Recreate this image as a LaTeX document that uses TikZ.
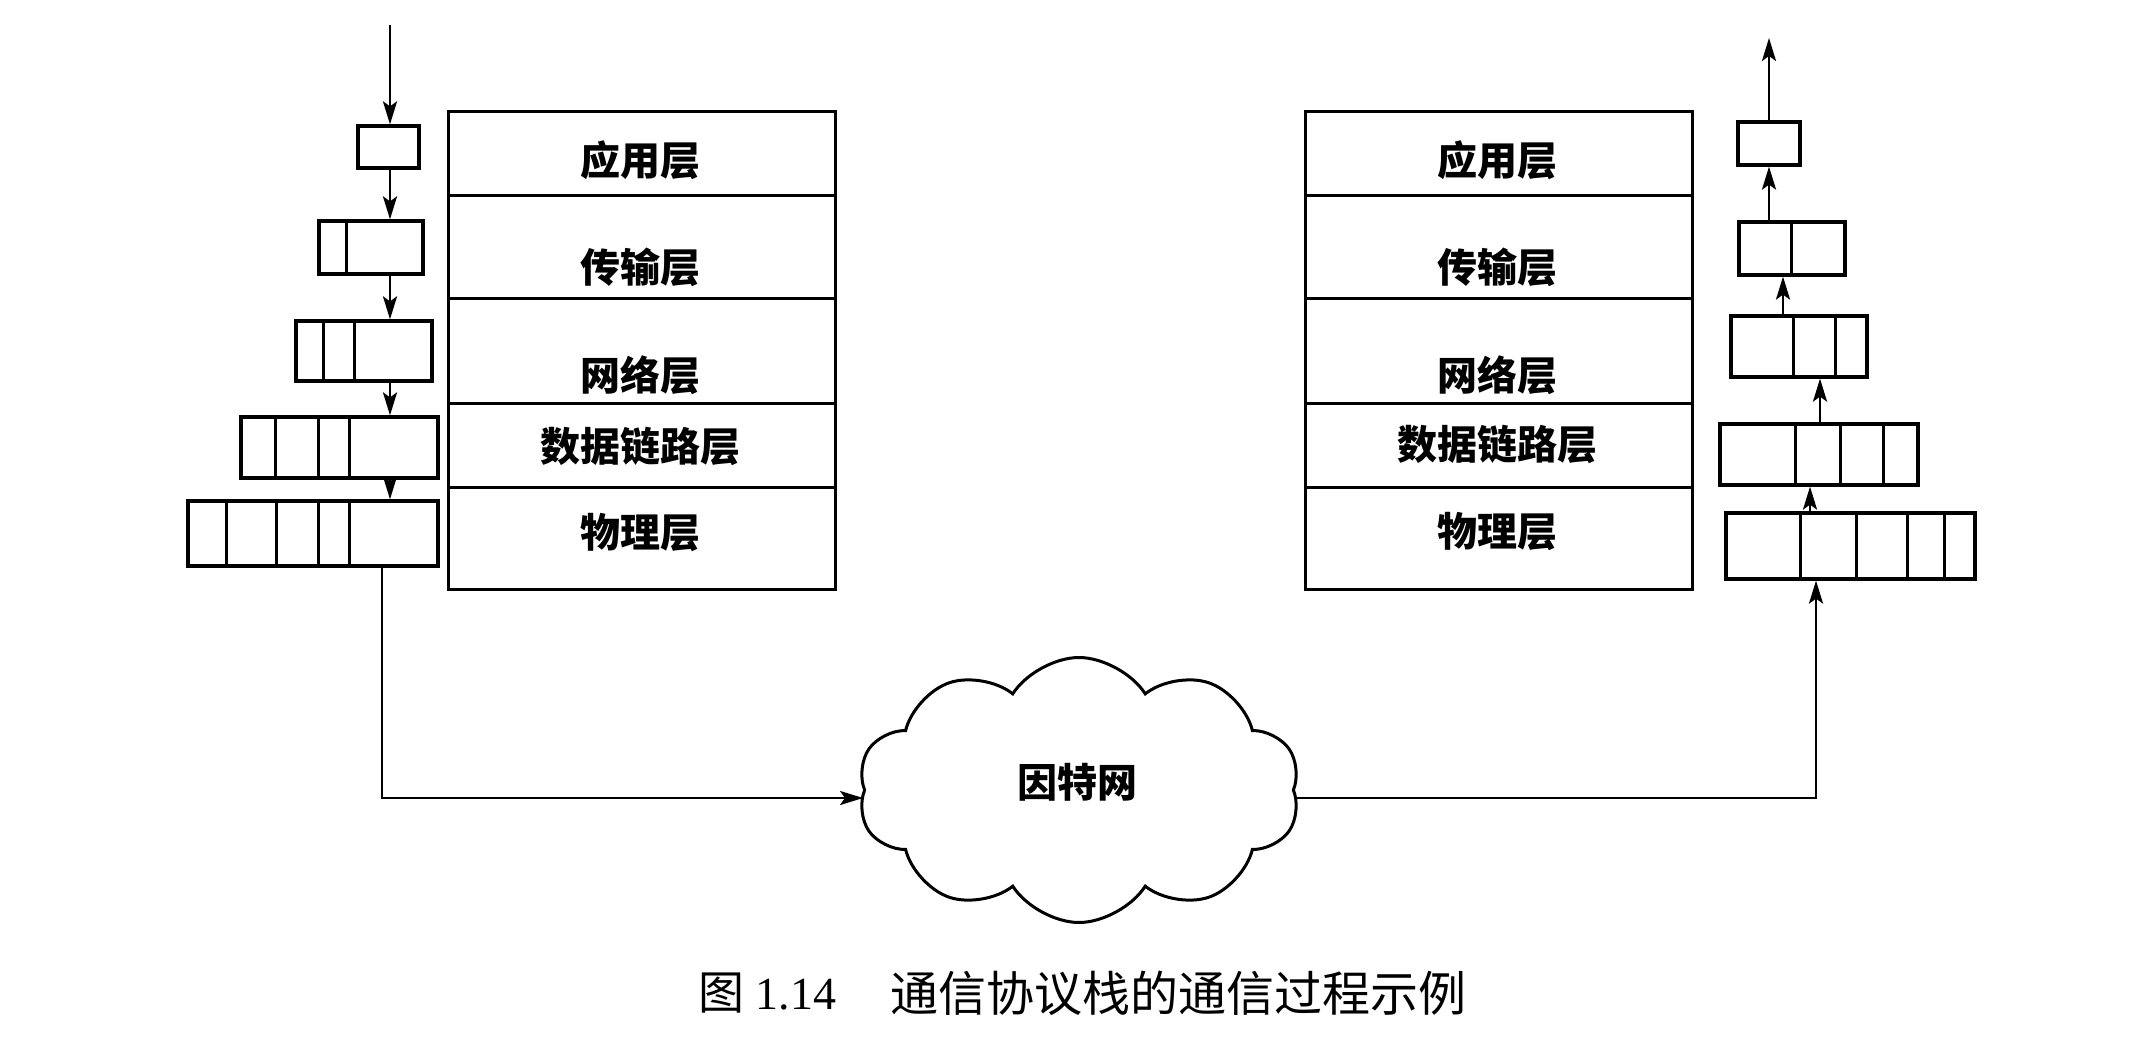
\documentclass[tikz,border=0pt]{standalone}
\usepackage{fontspec}
\setmainfont{Liberation Serif}
\newfontfamily\cjk{Noto Sans CJK SC}
\usetikzlibrary{arrows.meta,shapes.symbols}
\begin{document}
\begin{tikzpicture}[x=1pt,y=-1pt,
  pkt/.style={draw, rectangle, line width=3.2pt, inner sep=0pt},
  cell/.style={draw, rectangle, line width=3pt, inner sep=0pt, anchor=north west, minimum width=387pt},
  lay/.style={font=\cjk\bfseries\fontsize{40}{44}\selectfont, inner sep=0pt},
  conn/.style={line width=2.8pt},
  arr/.style={conn, -{Stealth[length=23pt,width=14pt,inset=5pt]}},
  div/.style={line width=3pt}]
\useasboundingbox (0,0) rectangle (2156,1038);

% ---------- left stack ----------
\node[cell, minimum height=84pt]  (la) at (447,110) {};
\node[cell, minimum height=103pt] (lb) at (447,194) {};
\node[cell, minimum height=105pt] (lc) at (447,297) {};
\node[cell, minimum height=84pt]  (ld) at (447,402) {};
\node[cell, minimum height=102pt] (le) at (447,486) {};
\node[lay] (tla) at (640,160) {应用层};
\node[lay] (tlb) at (640,267) {传输层};
\node[lay] (tlc) at (640,375) {网络层};
\node[lay] (tld) at (640,446) {数据链路层};
\node[lay] (tle) at (640,533) {物理层};

% ---------- right stack ----------
\node[cell, minimum height=84pt]  (ra) at (1304,110) {};
\node[cell, minimum height=103pt] (rb) at (1304,194) {};
\node[cell, minimum height=105pt] (rc) at (1304,297) {};
\node[cell, minimum height=84pt]  (rd) at (1304,402) {};
\node[cell, minimum height=102pt] (re) at (1304,486) {};
\node[lay] (tra) at (1497,160) {应用层};
\node[lay] (trb) at (1497,267) {传输层};
\node[lay] (trc) at (1497,375) {网络层};
\node[lay] (trd) at (1497,444) {数据链路层};
\node[lay] (tre) at (1497,532) {物理层};

% ---------- left packets ----------
\node[pkt, minimum width=61pt,  minimum height=42pt] (L1) at (388.5,147) {};
\node[pkt, minimum width=104pt, minimum height=53pt] (L2) at (371,247.5) {};
\node[pkt, minimum width=136pt, minimum height=60pt] (L3) at (364,351) {};
\node[pkt, minimum width=197pt, minimum height=61pt] (L4) at (339.5,447.5) {};
\node[pkt, minimum width=250pt, minimum height=65pt] (L5) at (313,533.5) {};
\foreach \x in {346} \draw[div] (L2.north -| \x,0) -- (L2.south -| \x,0);
\foreach \x in {323,354} \draw[div] (L3.north -| \x,0) -- (L3.south -| \x,0);
\foreach \x in {275,318,349} \draw[div] (L4.north -| \x,0) -- (L4.south -| \x,0);
\foreach \x in {226,276,318,349} \draw[div] (L5.north -| \x,0) -- (L5.south -| \x,0);

% ---------- right packets ----------
\node[pkt, minimum width=62pt,  minimum height=43pt] (R1) at (1769,143.5) {};
\node[pkt, minimum width=106pt, minimum height=53pt] (R2) at (1792,248.5) {};
\node[pkt, minimum width=136pt, minimum height=61pt] (R3) at (1799,346.5) {};
\node[pkt, minimum width=198pt, minimum height=61pt] (R4) at (1819,454.5) {};
\node[pkt, minimum width=249pt, minimum height=66pt] (R5) at (1850.5,546) {};
\foreach \x in {1791} \draw[div] (R2.north -| \x,0) -- (R2.south -| \x,0);
\foreach \x in {1793,1835} \draw[div] (R3.north -| \x,0) -- (R3.south -| \x,0);
\foreach \x in {1795,1840,1883} \draw[div] (R4.north -| \x,0) -- (R4.south -| \x,0);
\foreach \x in {1800,1856,1907,1944} \draw[div] (R5.north -| \x,0) -- (R5.south -| \x,0);

% ---------- cloud ----------
\node[draw, cloud, cloud puffs=10, cloud puff arc=115, aspect=1.67, line width=3pt,
      minimum width=442pt, minimum height=265pt, inner sep=0pt] (net) at (1079,790) {};
\node[lay] (tnet) at (1077,782) {因特网};

% ---------- connectors ----------
\coordinate (lin) at (390,25);
\coordinate (lturn) at (382,798);
\coordinate (rturn) at (1816,798);
\coordinate (rout) at (1769,38);

\draw[arr] (lin) -- (lin |- L1.north);
\draw[arr] (L1.south -| lin) -- (L2.north -| lin);
\draw[arr] (L2.south -| lin) -- (L3.north -| lin);
\draw[arr] (L3.south -| lin) -- (L4.north -| lin);
\draw[arr] (L4.south -| lin) -- (L5.north -| lin);
\draw[arr] (L5.south -| lturn) -- (lturn) -- (net.west |- lturn);

\draw[arr] (net.east |- rturn) -- (rturn) -- (R5.south -| rturn);
\draw[arr] (R5.north -| 1810,0) -- (R4.south -| 1810,0);
\draw[arr] (R4.north -| 1820,0) -- (R3.south -| 1820,0);
\draw[arr] (R3.north -| 1783,0) -- (R2.south -| 1783,0);
\draw[arr] (R2.north -| rout) -- (R1.south -| rout);
\draw[arr] (R1.north -| rout) -- (rout);

% ---------- caption ----------
\node[anchor=west, inner sep=0pt, font=\fontsize{46}{50}\selectfont] (cap1) at (698,993) {{\cjk 图} 1.14};
\node[anchor=west, inner sep=0pt, font=\cjk\fontsize{48}{52}\selectfont] (cap2) at (890,993) {通信协议栈的通信过程示例};
\end{tikzpicture}
\end{document}
